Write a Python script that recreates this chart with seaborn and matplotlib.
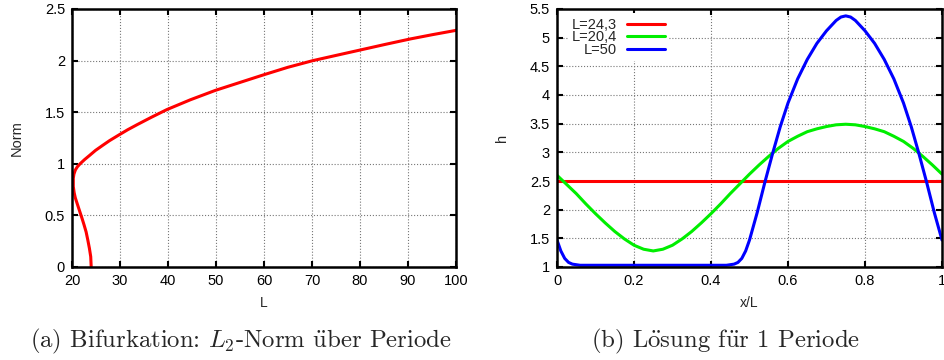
import numpy as np
import pandas as pd
import matplotlib
matplotlib.use("Agg")
import matplotlib.pyplot as plt
import seaborn as sns

# ---- data ----
L_vals = [24.0, 23.9, 23.63, 23.3, 22.94, 22.5, 22.1, 21.39, 20.69, 20.45, 20.27,
          20.27, 20.4, 20.7, 21.1, 21.68, 22.6, 23.63, 24.9, 26.43, 27.84, 29.79,
          31.6, 33.6, 36.5, 39.75, 44.64, 49.9, 55.1, 60.04, 64.96, 70.2, 75.46,
          80.36, 85.25, 90.5, 95.06, 100.0]
norm_vals = [0.0, 0.1, 0.18, 0.26, 0.34, 0.41, 0.47, 0.57, 0.67, 0.72, 0.78,
             0.86, 0.9, 0.94, 0.97, 1.0, 1.04, 1.08, 1.13, 1.18, 1.225, 1.28,
             1.33, 1.38, 1.45, 1.525, 1.62, 1.712, 1.79, 1.864, 1.935, 2.0, 2.055,
             2.106, 2.157, 2.21, 2.251, 2.293]

x_red = [0.0, 1.0]
h_red = [2.5, 2.5]

x_green = [0.0, 0.025, 0.05, 0.075, 0.1, 0.125, 0.15, 0.175, 0.2, 0.225, 0.25,
           0.275, 0.3, 0.325, 0.35, 0.375, 0.4, 0.425, 0.45, 0.475, 0.5,
           0.525, 0.55, 0.575, 0.6, 0.625, 0.65, 0.675, 0.7, 0.725, 0.75,
           0.775, 0.8, 0.825, 0.85, 0.875, 0.9, 0.925, 0.95, 0.975, 1.0]
h_green = [2.60, 2.44, 2.28, 2.10, 1.93, 1.77, 1.62, 1.49, 1.38, 1.31, 1.28,
           1.31, 1.38, 1.49, 1.62, 1.77, 1.93, 2.10, 2.28, 2.45, 2.62,
           2.78, 2.93, 3.07, 3.19, 3.28, 3.36, 3.41, 3.45, 3.48, 3.49,
           3.48, 3.45, 3.41, 3.36, 3.28, 3.19, 3.07, 2.93, 2.78, 2.62]

x_blue = [0.0, 0.01, 0.02, 0.03, 0.04, 0.06, 0.1, 0.2, 0.3, 0.4, 0.44, 0.46, 0.47,
          0.48, 0.49, 0.5, 0.52, 0.54, 0.56, 0.58, 0.6, 0.625, 0.65, 0.675, 0.7,
          0.725, 0.7375, 0.75, 0.7625, 0.775, 0.8, 0.825, 0.85, 0.875, 0.9, 0.92,
          0.94, 0.96, 0.98, 1.0]
h_blue = [1.47, 1.28, 1.15, 1.08, 1.05, 1.03, 1.03, 1.03, 1.03, 1.03, 1.03, 1.05,
          1.08, 1.15, 1.28, 1.47, 1.95, 2.48, 2.98, 3.45, 3.86, 4.28, 4.62, 4.90,
          5.12, 5.30, 5.36, 5.38, 5.36, 5.30, 5.12, 4.90, 4.62, 4.28, 3.86, 3.45,
          2.98, 2.48, 1.95, 1.47]

labels_b = ["L=24,3", "L=20,4", "L=50"]
colors_b = ["#ff0000", "#00ee00", "#0000ff"]

xticks_a = [20, 30, 40, 50, 60, 70, 80, 90, 100]
yticks_a = [0, 0.5, 1, 1.5, 2, 2.5]
yticklabels_a = ["0", "0.5", "1", "1.5", "2", "2.5"]
xticks_b = [0, 0.2, 0.4, 0.6, 0.8, 1]
xticklabels_b = ["0", "0.2", "0.4", "0.6", "0.8", "1"]
yticks_b = [1, 1.5, 2, 2.5, 3, 3.5, 4, 4.5, 5, 5.5]
yticklabels_b = ["1", "1.5", "2", "2.5", "3", "3.5", "4", "4.5", "5", "5.5"]

caption_a = r"(a) Bifurkation: $L_2$-Norm $\ddot{\mathrm{u}}$ber Periode"
caption_b = r"(b) L$\ddot{\mathrm{o}}$sung f$\ddot{\mathrm{u}}$r 1 Periode"

# ---- style ----
sns.set_theme(style="ticks")
plt.rcParams["font.family"] = ["Liberation Sans", "DejaVu Sans"]
plt.rcParams["mathtext.fontset"] = "cm"

fig = plt.figure(figsize=(9.44, 3.6), dpi=100)
ax1 = fig.add_axes([72 / 944, 1 - 267 / 360, 384 / 944, 258 / 360])
ax2 = fig.add_axes([557 / 944, 1 - 267 / 360, 385 / 944, 258 / 360])

df_a = pd.DataFrame({"L": L_vals, "Norm": norm_vals})
sns.lineplot(data=df_a, x="L", y="Norm", sort=False, estimator=None,
             color="#ff0000", linewidth=2.2, ax=ax1)

series = [(x_red, h_red), (x_green, h_green), (x_blue, h_blue)]
for (xs, hs), lab, col in zip(series, labels_b, colors_b):
    d = pd.DataFrame({"x": xs, "h": hs})
    sns.lineplot(data=d, x="x", y="h", sort=False, estimator=None,
                 color=col, linewidth=2.2, label=lab, ax=ax2)


def style_axes(ax):
    for s in ax.spines.values():
        s.set_linewidth(1.8)
        s.set_color("black")
    ax.tick_params(direction="in", top=True, right=True, length=4, width=1.5,
                   labelsize=10.5, colors="black", pad=5)
    ax.grid(True, color="#777777", linestyle=":", linewidth=0.8)
    ax.set_axisbelow(True)


ax1.set_xlim(20, 100)
ax1.set_ylim(0, 2.5)
ax1.set_xticks(xticks_a)
ax1.set_xticklabels([str(t) for t in xticks_a])
ax1.set_yticks(yticks_a)
ax1.set_yticklabels(yticklabels_a)
ax1.set_xlabel("L", fontsize=10, labelpad=6)
ax1.set_ylabel("Norm", fontsize=10.5, labelpad=15)
style_axes(ax1)

ax2.set_xlim(0, 1)
ax2.set_ylim(1, 5.5)
ax2.set_xticks(xticks_b)
ax2.set_xticklabels(xticklabels_b)
ax2.set_yticks(yticks_b)
ax2.set_yticklabels(yticklabels_b)
ax2.set_xlabel("x/L", fontsize=10, labelpad=6)
ax2.set_ylabel("h", fontsize=10.5, labelpad=15)
style_axes(ax2)

leg = ax2.legend(loc="upper left", bbox_to_anchor=(0.016, 1.0), markerfirst=False,
                 frameon=True, fancybox=False, framealpha=1, facecolor="white",
                 edgecolor="white", fontsize=10.5, handlelength=2.6,
                 handletextpad=0.65, labelspacing=-0.1, borderpad=0.3,
                 borderaxespad=0.3)
leg.get_frame().set_linewidth(0)

fig.text(241 / 944, 1 - 341 / 360, caption_a, ha="center", va="center",
         fontsize=17.8, family=["cmr10", "DejaVu Serif"])
fig.text(726 / 944, 1 - 341 / 360, caption_b, ha="center", va="center",
         fontsize=17.8, family=["cmr10", "DejaVu Serif"])

fig.savefig("out.png", dpi=100)
